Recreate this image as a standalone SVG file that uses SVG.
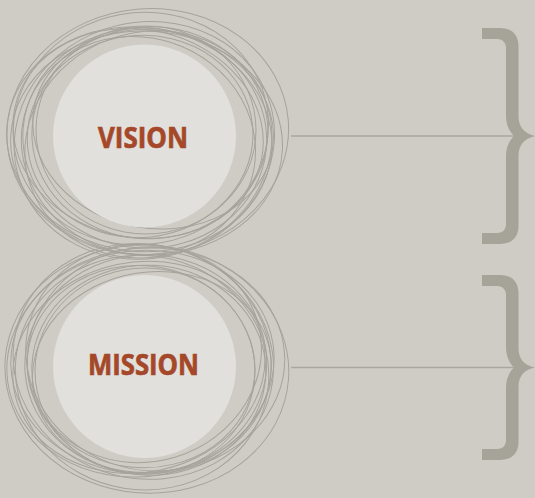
<svg xmlns="http://www.w3.org/2000/svg" width="535" height="498" viewBox="0 0 535 498">
<style>
.bg{fill:#cfccc5}
.sc{fill:none;stroke:#a6a39b;stroke-width:1}
.core{fill:#e1e0dd}
.lbl{font-family:"Open Sans","Liberation Sans",sans-serif;font-weight:bold;font-size:28.5px;fill:#a5482a;stroke:#a5482a;stroke-width:0.7;text-anchor:middle}
.brace{fill:#a6a499}
.conn{stroke:#aaa79e;stroke-width:1.5;fill:none}
</style>
<rect class="bg" x="0" y="0" width="535" height="498"/>
<g id="vision">
<g transform="translate(145 135)">
<ellipse class="sc" cx="3" cy="-3" rx="141" ry="123" transform="rotate(-5)"/>
<ellipse class="sc" cx="-5" cy="5" rx="133" ry="112" transform="rotate(8)"/>
<ellipse class="sc" cx="-3" cy="-7" rx="128" ry="116" transform="rotate(-10)"/>
<ellipse class="sc" cx="0" cy="3" rx="122" ry="110" transform="rotate(5)"/>
<ellipse class="sc" cx="5" cy="-2" rx="118" ry="106" transform="rotate(-3)"/>
<ellipse class="sc" cx="-7" cy="0" rx="126" ry="104" transform="rotate(12)"/>
<ellipse class="sc" cx="1" cy="-5" rx="110" ry="104"/>
<ellipse class="sc" cx="-2" cy="5" rx="131" ry="118" transform="rotate(-15)"/>
<ellipse class="sc" cx="7" cy="-7" rx="121" ry="99" transform="rotate(10)"/>
<ellipse class="sc" cx="-5" cy="1" rx="113" ry="101" transform="rotate(-6)"/>
<ellipse class="sc" cx="2" cy="8" rx="136" ry="112" transform="rotate(3)"/>
<ellipse class="sc" cx="0" cy="10" rx="125" ry="112" transform="rotate(-20)"/>
<ellipse class="sc" cx="-3" cy="12" rx="118" ry="108" transform="rotate(18)"/>
</g>
<circle class="core" cx="144.5" cy="136" r="91.5"/>
<text class="lbl" x="143" y="148" textLength="90" lengthAdjust="spacingAndGlyphs">VISION</text>
</g>
<g id="mission">
<g transform="translate(145 367)">
<ellipse class="sc" cx="2" cy="2" rx="142" ry="124" transform="rotate(4)"/>
<ellipse class="sc" cx="-4" cy="-4" rx="134" ry="113" transform="rotate(-8)"/>
<ellipse class="sc" cx="-2" cy="6" rx="127" ry="117" transform="rotate(9)"/>
<ellipse class="sc" cx="1" cy="-3" rx="121" ry="109" transform="rotate(-4)"/>
<ellipse class="sc" cx="4" cy="3" rx="117" ry="105" transform="rotate(3)"/>
<ellipse class="sc" cx="-6" cy="-1" rx="127" ry="105" transform="rotate(-12)"/>
<ellipse class="sc" cx="0" cy="4" rx="110" ry="103"/>
<ellipse class="sc" cx="-3" cy="-5" rx="131" ry="117" transform="rotate(14)"/>
<ellipse class="sc" cx="6" cy="6" rx="120" ry="100" transform="rotate(-9)"/>
<ellipse class="sc" cx="-4" cy="0" rx="114" ry="101" transform="rotate(6)"/>
<ellipse class="sc" cx="3" cy="-6" rx="137" ry="113" transform="rotate(-2)"/>
<ellipse class="sc" cx="0" cy="-10" rx="124" ry="112" transform="rotate(20)"/>
<ellipse class="sc" cx="3" cy="-12" rx="118" ry="107" transform="rotate(-17)"/>
</g>
<circle class="core" cx="144.5" cy="366.5" r="91.5"/>
<text class="lbl" x="143.5" y="375" textLength="111" lengthAdjust="spacingAndGlyphs">MISSION</text>
</g>
<g id="connectors">
<line class="conn" x1="291" y1="136" x2="522" y2="136"/>
<line class="conn" x1="291" y1="367.5" x2="522" y2="367.5"/>
</g>
<g id="brace-vision">
<path class="brace" d="M482,28 H500 C511,28 518.5,34 518.5,46 V116 C518.5,127 524,133 535,136 C524,139 518.5,145 518.5,156 V226 C518.5,238 511,244 500,244 H482 V233 H497 C503,233 506,229 506,224 V156 C506,146 510,140 514,136 C510,132 506,126 506,116 V48 C506,43 503,39 497,39 H482 Z"/>
</g>
<g id="brace-mission">
<path class="brace" d="M482,275 H500 C511,275 518.5,281 518.5,293 V348 C518.5,359 524,365 535,367.5 C524,370 518.5,376 518.5,387 V442 C518.5,454 511,460 500,460 H482 V449 H497 C503,449 506,445 506,440 V388 C506,378 510,371 514,367.5 C510,364 506,357 506,347 V295 C506,290 503,286 497,286 H482 Z"/>
</g>
</svg>
